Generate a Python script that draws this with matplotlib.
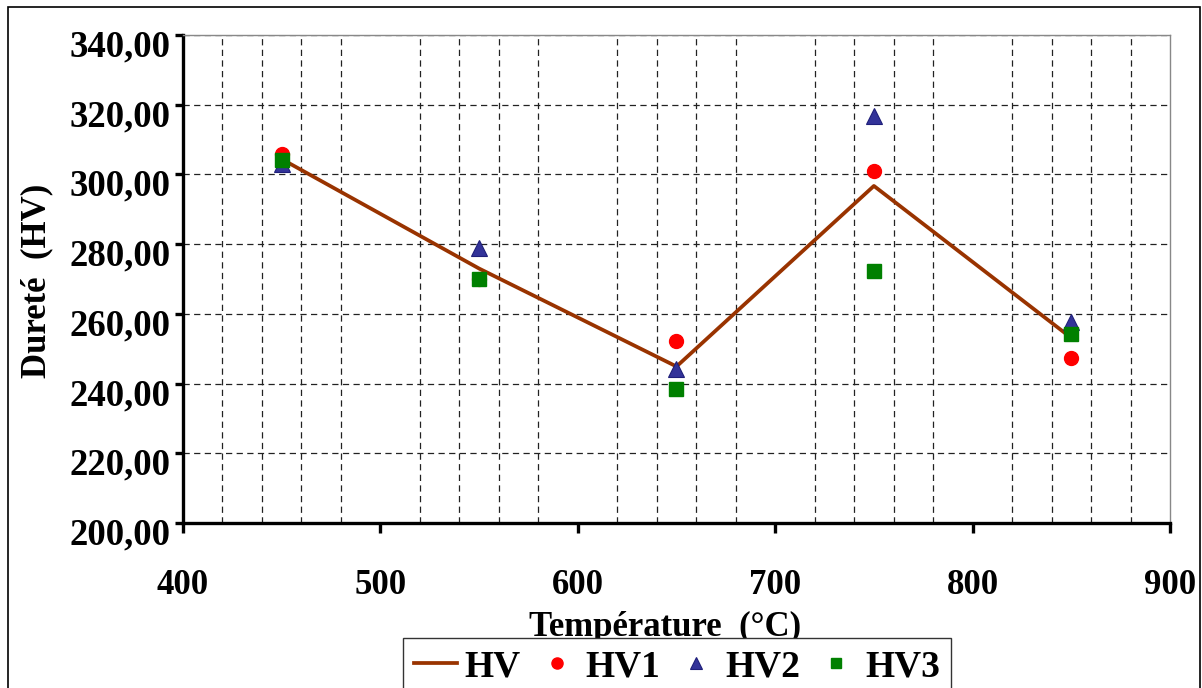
"""Dureté HV en fonction de la température de revenu."""

import matplotlib

matplotlib.use("Agg")

import matplotlib.pyplot as plt
import matplotlib.transforms as mtransforms
from matplotlib.patches import Rectangle
from matplotlib.ticker import FuncFormatter, MultipleLocator

temperatures = [450, 550, 650, 750, 850]
hv_moyenne = [304.4, 273.0, 244.9, 296.7, 253.1]
hv1 = [306.0, 270.0, 252.2, 301.0, 247.3]
hv2 = [303.0, 278.9, 244.2, 316.8, 257.7]
hv3 = [304.1, 270.0, 238.4, 272.3, 254.2]

plt.rcParams["font.family"] = ["Liberation Serif", "DejaVu Serif"]
plt.rcParams["font.weight"] = "bold"

fig = plt.figure(figsize=(12.02, 6.88), dpi=100)
ax = fig.add_axes([183 / 1202, 1 - 523 / 688, (1170 - 183) / 1202, (523 - 35) / 688])

ax.plot(temperatures, hv_moyenne, color="#993300", lw=2.7, label="HV", zorder=3)
ax.plot(temperatures, hv1, ls="none", marker="o", ms=10, color="#FF0000",
        mec="#FF0000", label="HV1", zorder=4)
ax.plot(temperatures, hv2, ls="none", marker="^", ms=11.5, color="#333399",
        mec="#1F1F7A", mew=0.8, label="HV2", zorder=4)
ax.plot(temperatures, hv3, ls="none", marker="s", ms=9.5, color="#008000",
        mec="#008000", label="HV3", zorder=4)

ax.set_xlim(400, 900)
ax.set_ylim(200, 340)
ax.xaxis.set_major_locator(MultipleLocator(100))
ax.xaxis.set_minor_locator(MultipleLocator(20))
ax.yaxis.set_major_locator(MultipleLocator(20))
ax.yaxis.set_major_formatter(FuncFormatter(lambda v, _: f"{v:.2f}".replace(".", ",")))

grid_style = dict(color="#222222", lw=0.9, dashes=(5, 3.5))
ax.grid(True, axis="x", which="minor", **grid_style)
ax.grid(True, axis="y", which="major", **grid_style)
ax.set_axisbelow(True)

for side in ("top", "right"):
    ax.spines[side].set_color("#888888")
    ax.spines[side].set_linewidth(1.0)
for side in ("left", "bottom"):
    ax.spines[side].set_color("black")
    ax.spines[side].set_linewidth(2.4)

ax.tick_params(axis="x", which="major", direction="out", length=7, width=2.4,
               labelsize=25, pad=26)
ax.tick_params(axis="x", which="minor", length=0)
ax.tick_params(axis="y", direction="out", length=6, width=2.4, labelsize=26.5, pad=3)

# étiquettes de l'axe Y légèrement décalées vers le bas
offset = mtransforms.ScaledTranslation(0, -8 / 100, fig.dpi_scale_trans)
for lbl in ax.get_yticklabels():
    lbl.set_transform(lbl.get_transform() + offset)

fig.text(37 / 1202, 1 - 281 / 688, "Dureté  (HV)", rotation=90, fontsize=25,
         fontweight="bold", ha="center", va="center")
fig.text(665 / 1202, 1 - 627 / 688, "Température  (°C)", fontsize=25,
         fontweight="bold", ha="center", va="center")

leg = fig.legend(loc="upper center", bbox_to_anchor=(677 / 1202, 1 - 638 / 688),
                 borderaxespad=0, ncol=4, fontsize=27, frameon=True, fancybox=False,
                 framealpha=1, edgecolor="#333333", borderpad=0.3,
                 handlelength=1.15, handletextpad=0.2, columnspacing=0.38,
                 markerscale=0.8)
leg.get_frame().set_linewidth(1.0)
leg.set_zorder(10)

fig.patches.append(Rectangle((8 / 1202, -0.05), 1192 / 1202, 1.05 - 7 / 688,
                             transform=fig.transFigure, fill=False,
                             edgecolor="black", lw=1.2))

fig.savefig("out.png", dpi=100)
